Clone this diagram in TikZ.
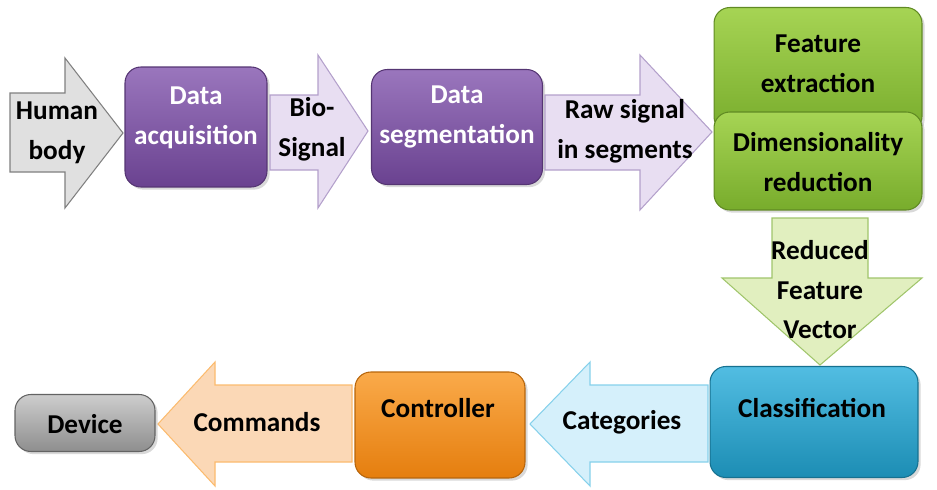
\documentclass[tikz,border=0pt]{standalone}
\usepackage{fontspec}
\setmainfont{Carlito}
\usepackage{xcolor}
\usepackage{tikz}
\usetikzlibrary{shadows}

\definecolor{purpleTop}{HTML}{9A76BD}
\definecolor{purpleBot}{HTML}{6A4290}
\definecolor{lavender}{HTML}{E8DEF2}
\definecolor{lavenderLine}{HTML}{B3A0CB}
\definecolor{greenTop}{HTML}{A6D454}
\definecolor{greenBot}{HTML}{78AC2C}
\definecolor{lightGreen}{HTML}{E1EFBF}
\definecolor{blueTop}{HTML}{52BDE2}
\definecolor{blueBot}{HTML}{1C8DB4}
\definecolor{lightBlue}{HTML}{D5F0FB}
\definecolor{orangeTop}{HTML}{FAAA4A}
\definecolor{orangeBot}{HTML}{E57E0E}
\definecolor{peach}{HTML}{FBD8B6}
\definecolor{greyTop}{HTML}{CDCDCD}
\definecolor{greyBot}{HTML}{8E8E8E}

\begin{document}
\begin{tikzpicture}[x=0.02cm, y=-0.02cm,
        every node/.style={font=\bfseries\fontsize{15.5}{22.5}\selectfont, align=center},
        box/.style={draw, rounded corners=9pt, line width=0.6pt,
            drop shadow={opacity=0.3, shadow xshift=1.5pt, shadow yshift=-1.5pt}},
        purplebox/.style={box, draw=purpleBot!80!black, top color=purpleTop, bottom color=purpleBot, text=white},
        greenbox/.style={box, draw=greenBot!80!black, top color=greenTop, bottom color=greenBot},
        bluebox/.style={box, draw=blueBot!80!black, top color=blueTop, bottom color=blueBot},
        orangebox/.style={box, draw=orangeBot!80!black, top color=orangeTop, bottom color=orangeBot},
        greybox/.style={box, draw=greyBot!70!black, top color=greyTop, bottom color=greyBot},
        blockarrow/.style={line width=0.6pt, line join=miter}]

    \useasboundingbox (0,0) rectangle (937,490);

    % top row
    \draw[blockarrow, draw=gray, fill=black!12] (10,93) -- (65,93) -- (65,58) -- (123,133) -- (65,208) -- (65,172) -- (10,172) -- cycle;
    \node (human) at (57,133) {Human\\body};

    \node[purplebox, minimum width=2.84cm, minimum height=2.4cm] (acq) at (196,127) {};
    \node[text=white] (acqText) at (196,118) {Data\\acquisition};

    \draw[blockarrow, draw=lavenderLine, fill=lavender] (270,95) -- (318,95) -- (318,55) -- (368,131) -- (318,208) -- (318,170) -- (270,170) -- cycle;
    \node (bio) at (312,129) {Bio-\\Signal};

    \node[purplebox, minimum width=3.42cm, minimum height=2.3cm] (seg) at (457,127) {};
    \node[text=white] (segText) at (457,117) {Data\\segmentation};

    \draw[blockarrow, draw=lavenderLine, fill=lavender] (545,95) -- (640,95) -- (640,55) -- (712,132) -- (640,210) -- (640,170) -- (545,170) -- cycle;
    \node (raw) at (625,131) {Raw signal\\in segments};

    \node[greenbox, minimum width=4.16cm, minimum height=2.5cm] (feat) at (818,70) {};
    \node (featText) at (818,64) {Feature\\extraction};
    \node[greenbox, minimum width=4.16cm, minimum height=1.96cm] (dim) at (818,161) {};
    \node (dimText) at (818,162) {Dimensionality\\reduction};

    % down
    \draw[blockarrow, draw=greenBot!70, fill=lightGreen] (772,218) -- (868,218) -- (868,278) -- (922,278) -- (820,365) -- (722,278) -- (772,278) -- cycle;
    \node (vec) at (820,290) {Reduced\\Feature\\Vector};

    % bottom row
    \node[bluebox, minimum width=4.16cm, minimum height=2.22cm] (classif) at (814,422) {};
    \node (classifText) at (812,408) {Classification};

    \draw[blockarrow, draw=blueTop!70, fill=lightBlue] (708,385) -- (590,385) -- (590,362) -- (530,424) -- (590,486) -- (590,462) -- (708,462) -- cycle;
    \node (cat) at (622,422) {Categories};

    \node[orangebox, minimum width=3.4cm, minimum height=2.12cm] (ctrl) at (440,425) {};
    \node (ctrlText) at (438,408) {Controller};

    \draw[blockarrow, draw=orangeTop!80, fill=peach] (352,385) -- (215,385) -- (215,362) -- (158,424) -- (215,486) -- (215,462) -- (352,462) -- cycle;
    \node (cmd) at (257,422) {Commands};

    \node[greybox, minimum width=2.8cm, minimum height=1.14cm] (dev) at (85,423) {};
    \node (devText) at (85,424) {Device};
\end{tikzpicture}
\end{document}
